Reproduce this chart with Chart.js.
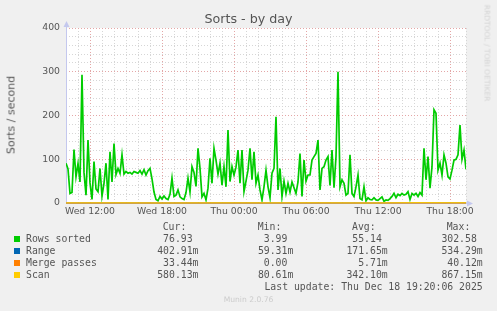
<!DOCTYPE html>
<html><head><meta charset="utf-8">
<script src="https://cdn.jsdelivr.net/npm/chart.js@4/dist/chart.umd.min.js"></script>
<style>
html,body{margin:0;padding:0;background:#f0f0f0;width:497px;height:311px;overflow:hidden;}
#wrap{position:relative;width:497px;height:311px;}
canvas{position:absolute;left:0;top:0;}
.m{position:absolute;white-space:pre;font-family:"DejaVu Sans Mono",monospace;font-size:9.8px;color:#555;line-height:12px;}
.s{position:absolute;width:6px;height:6px;}
.title{position:absolute;left:0;width:497px;top:11px;text-align:center;font-family:"DejaVu Sans",sans-serif;font-size:12.7px;color:#555;line-height:16px;}
.ylab{position:absolute;left:10.5px;top:115px;transform:translate(-50%,-50%) rotate(-90deg);font-family:"DejaVu Sans",sans-serif;font-size:11px;color:#555;white-space:nowrap;}
.rrd{position:absolute;left:487px;top:53px;transform:translate(-50%,-50%) rotate(90deg);font-family:"DejaVu Sans",sans-serif;font-size:7.5px;color:#d4d4d4;white-space:nowrap;}
.munin{position:absolute;left:0;width:497px;top:295px;text-align:center;font-family:"DejaVu Sans",sans-serif;font-size:7.6px;color:#cccccc;line-height:10px;}
</style>
</head><body>
<div id="wrap">
<canvas id="c" width="497" height="311"></canvas>
<div class="title">Sorts - by day</div>
<div class="ylab">Sorts / second</div>
<div class="rrd">RRDTOOL / TOBI OETIKER</div>
<div id="legend"></div>
<div class="munin">Munin 2.0.76</div>
</div>
<script>
// ---- data ----
const tickLabels = ["Wed 12:00","Wed 18:00","Thu 00:00","Thu 06:00","Thu 12:00","Thu 18:00"];
const tickIndex = [12,48,84,120,156,192]; // 10-minute slots from Wed 10:00
const yTickLabels = ["0","100","200","300","400"];
const rowsSorted = [91,78,22,24,122,60,90,48,293,70,18,144,46,8,95,32,26,79,16,45,
91,8,117,48,136,65,79,68,110,66,72,68,70,66,72,70,68,74,66,76,
64,74,79,55,25,8,5,15,9,16,10,8,20,57,15,18,30,14,10,8,
24,57,25,83,70,38,125,79,14,22,7,34,102,45,125,98,66,91,41,83,
37,167,49,83,64,82,121,45,121,26,50,75,125,53,117,45,64,30,7,37,
75,37,12,68,79,197,30,79,15,50,22,45,25,48,35,22,48,113,15,98,
50,64,64,98,106,113,144,30,79,83,98,106,40,121,35,106,300,37,53,45,
18,22,110,22,15,37,64,10,7,37,5,12,8,7,12,7,6,10,14,4,
7,6,10,15,22,12,20,17,22,18,20,26,8,22,18,22,15,24,18,125,
53,106,34,83,213,205,75,91,64,110,91,60,55,75,98,100,110,178,100,121,77];
const slotsCoarse = [0,25,50,75,100,125,150,175,200];
const rangeVals  = [0.12,0.18,0.06,0.22,0.15,0.25,0.08,0.53,0.40];
const mergeVals  = [0.004,0.010,0.000,0.003,0.006,0.012,0.000,0.040,0.033];
const scanVals   = [0.30,0.45,0.08,0.40,0.35,0.50,0.10,0.87,0.58];
const legendNames = ["Rows sorted","Range","Merge passes","Scan"];
const legendColors = ["#00cc00","#0066b3","#ff8000","#ffcc00"];
const curVals = ["76.93 ","402.91m","33.44m","580.13m"];
const minVals = ["3.99 ","59.31m","0.00 ","80.61m"];
const avgVals = ["55.14 ","171.65m","5.71m","342.10m"];
const maxVals = ["302.58 ","534.29m","40.12m","867.15m"];

// ---- legend ----
const lg = document.getElementById('legend');
function put(txt, y, left, right){
  const d=document.createElement('div'); d.className='m'; d.textContent=txt;
  d.style.top=(y-6)+'px';
  if(left!==undefined) d.style.left=left+'px'; else d.style.right=(497-right)+'px';
  lg.appendChild(d);
}
put("Cur:",227.3,162.7); put("Min:",227.3,257.7); put("Avg:",227.3,352); put("Max:",227.3,446.7);
for(let r=0;r<4;r++){
  const y=239.3+r*12;
  const sq=document.createElement('div'); sq.className='s'; sq.style.left='14px'; sq.style.top=(y-3)+'px'; sq.style.background=legendColors[r]; lg.appendChild(sq);
  put(legendNames[r],y,26);
  put(curVals[r],y,undefined,198.5);
  put(minVals[r],y,undefined,293.3);
  put(avgVals[r],y,undefined,387.7);
  put(maxVals[r],y,undefined,482.7);
}
put("Last update: Thu Dec 18 19:20:06 2025",287.3,undefined,482.7);

// ---- chart ----
const majorCol='#e4a6a6', minorCol='#d6d6d6', axisCol='#c4c8ee';
const deco = {
  id:'deco',
  beforeDraw(ch){const a=ch.chartArea,c=ch.ctx;c.save();c.fillStyle='#ffffff';c.fillRect(a.left,a.top,a.right-a.left,a.bottom-a.top);c.restore();},
  beforeDatasetsDraw(ch){const a=ch.chartArea,c=ch.ctx;c.save();c.strokeStyle=axisCol;c.lineWidth=1;
    c.beginPath();c.moveTo(a.left+0.5,a.bottom);c.lineTo(a.left+0.5,a.top-4);c.stroke();
    c.beginPath();c.moveTo(a.left,a.bottom+0.5);c.lineTo(a.right+4,a.bottom+0.5);c.stroke();c.restore();},
  afterDraw(ch){const a=ch.chartArea,c=ch.ctx;c.save();c.fillStyle=axisCol;
    c.beginPath();c.moveTo(a.left+0.5,a.top-7);c.lineTo(a.left-2.5,a.top-1);c.lineTo(a.left+3.5,a.top-1);c.closePath();c.fill();
    c.beginPath();c.moveTo(a.right+7,a.bottom+0.5);c.lineTo(a.right+1,a.bottom-2.5);c.lineTo(a.right+1,a.bottom+3.5);c.closePath();c.fill();
    c.restore();}
};
const coarse = arr => slotsCoarse.map((x,i)=>({x:x,y:arr[i]}));
new Chart(document.getElementById('c'),{
  type:'line',
  data:{datasets:[
    {label:'Rows sorted',data:rowsSorted.map((v,i)=>({x:i,y:v})),borderColor:legendColors[0],borderWidth:1.7,pointRadius:0,tension:0,order:4},
    {label:'Range',data:coarse(rangeVals),borderColor:legendColors[1],borderWidth:1,pointRadius:0,tension:0,clip:false,order:3},
    {label:'Merge passes',data:coarse(mergeVals),borderColor:legendColors[2],borderWidth:1,pointRadius:0,tension:0,clip:false,order:2},
    {label:'Scan',data:coarse(scanVals),borderColor:legendColors[3],borderWidth:1,pointRadius:0,tension:0,clip:false,order:1}
  ]},
  options:{
    responsive:false,animation:false,devicePixelRatio:1,
    layout:{padding:{left:0,top:28,right:31,bottom:0}},
    plugins:{legend:{display:false},tooltip:{enabled:false},title:{display:false}},
    scales:{
      x:{type:'linear',min:0,max:200,
        afterFit(s){s.height=108;},
        ticks:{stepSize:6,autoSkip:false,maxRotation:0,minRotation:0,padding:3,color:'#555',
          font:{family:'DejaVu Sans',size:9.3},
          callback(v){const k=tickIndex.indexOf(v);return k>=0?tickLabels[k]:'';}},
        grid:{drawTicks:false,lineWidth:1,color(c){return (c.tick && (c.tick.value-12)%36===0)?majorCol:minorCol;}},
        border:{display:false,dash:[1,2]}},
      y:{min:0,max:400,
        afterFit(s){s.width=66;},
        ticks:{stepSize:20,autoSkip:false,padding:6,color:'#555',font:{family:'DejaVu Sans',size:9.3},
          callback(v){return v%100===0?yTickLabels[v/100]:'';}},
        grid:{drawTicks:false,lineWidth:1,color(c){return (c.tick && c.tick.value%100===0)?majorCol:minorCol;}},
        border:{display:false,dash:[1,2]}}
    }
  },
  plugins:[deco]
});
</script>
</body></html>
